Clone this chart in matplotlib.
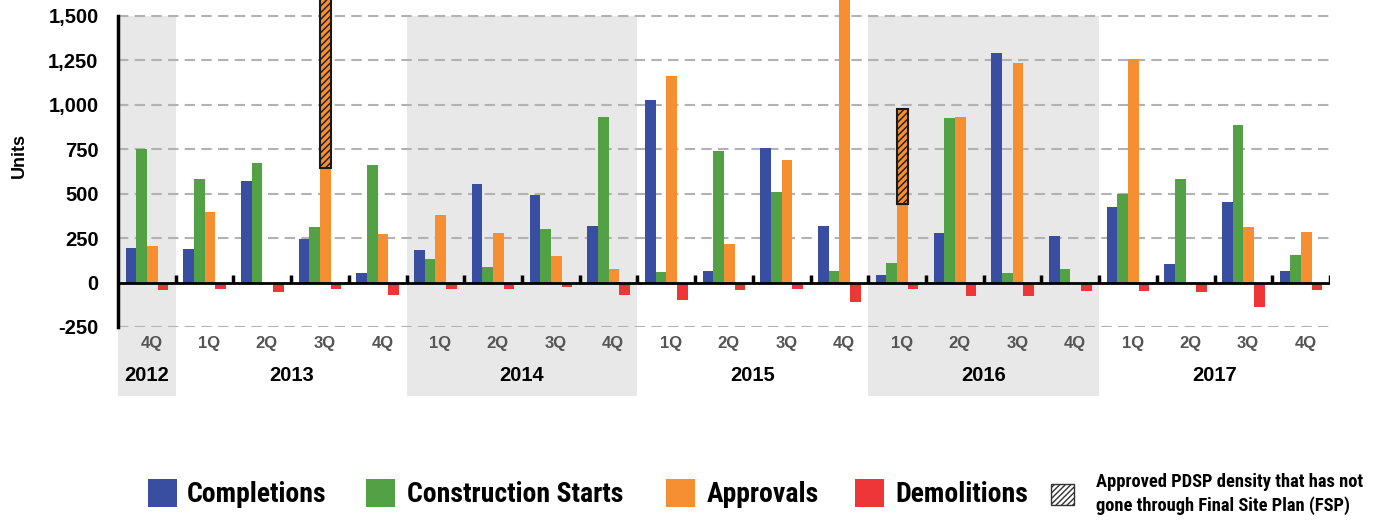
import matplotlib
matplotlib.use("Agg")
import matplotlib.pyplot as plt
from matplotlib.patches import Rectangle
import numpy as np

# Data (units per quarter)
quarters = ['4Q', '1Q', '2Q', '3Q', '4Q', '1Q', '2Q', '3Q', '4Q', '1Q', '2Q',
            '3Q', '4Q', '1Q', '2Q', '3Q', '4Q', '1Q', '2Q', '3Q', '4Q']
years = ['2012', '2013', '2014', '2015', '2016', '2017']
year_first = [0, 1, 5, 9, 13, 17]
year_last = [0, 4, 8, 12, 16, 20]
shaded_years = ['2012', '2014', '2016']

completions = [194, 187, 574, 243, 52, 181, 557, 490, 316, 1029, 64,
               759, 316, 41, 277, 1292, 260, 428, 103, 456, 64]
starts = [754, 580, 675, 310, 664, 131, 86, 299, 933, 58, 742,
          512, 64, 108, 928, 52, 75, 496, 585, 888, 153]
approvals = [204, 395, 0, 645, 271, 378, 277, 148, 75, 1163, 215,
             692, 1750, 440, 933, 1236, 0, 1259, 0, 310, 282]
demolitions = [-41, -36, -52, -36, -69, -36, -36, -24, -69, -97, -41,
               -36, -108, -36, -75, -75, -47, -47, -52, -137, -41]
# approved PDSP density not yet through FSP, stacked on approvals
pdsp = [0, 0, 0, 1300, 0, 0, 0, 0, 0, 0, 0,
        0, 0, 536, 0, 0, 0, 0, 0, 0, 0]

c_blue = '#3a4ea1'
c_green = '#52a245'
c_orange = '#f68e32'
c_red = '#ee3638'
c_shade = '#e8e8e8'

W, H = 1381, 521
fig = plt.figure(figsize=(W / 100, H / 100), dpi=100)
ax = fig.add_axes([118 / W, 1 - 327 / H, (1330 - 118) / W, 327 / H])

x = np.arange(len(quarters))
w = 0.185
ax.bar(x - 1.5 * w, completions, w, color=c_blue, zorder=3)
ax.bar(x - 0.5 * w, starts, w, color=c_green, zorder=3)
ax.bar(x + 0.5 * w, approvals, w, color=c_orange, zorder=3)
ax.bar(x + 1.5 * w, demolitions, w, color=c_red, zorder=3)

plt.rcParams['hatch.linewidth'] = 1.0
for i, v in enumerate(pdsp):
    if v > 0:
        ax.bar(x[i] + 0.5 * w, v, w, bottom=approvals[i], color=c_orange,
               edgecolor='#1a1a1a', hatch='/////', linewidth=1.5, zorder=4)

ax.set_xlim(-0.5, len(quarters) - 0.5)
ax.set_ylim(-250, 1590)

# shaded year bands (reach down behind the labels)
for yr, a, b in zip(years, year_first, year_last):
    if yr in shaded_years:
        ax.add_patch(Rectangle((a - 0.5, -640), b - a + 1, 2140,
                               facecolor=c_shade, edgecolor='none',
                               zorder=0, clip_on=False))

yticks = [-250, 0, 250, 500, 750, 1000, 1250, 1500]
ax.set_yticks(yticks)
ax.set_yticklabels([f'{t:,}' for t in yticks], fontsize=14.5,
                   fontweight='bold', family='Liberation Sans')
for t in yticks:
    if t != 0:
        ax.axhline(t, color='#b2b2b2', lw=1.5, ls=(0, (5, 3)), zorder=1)
ax.axhline(0, color='black', lw=2, zorder=5)
ax.vlines(np.arange(len(quarters)) + 0.5, 0, 45, color='black', lw=2.5, zorder=5)

for s in ['top', 'right', 'bottom']:
    ax.spines[s].set_visible(False)
ax.spines['left'].set_bounds(-250, 1500)
ax.spines['left'].set_linewidth(2.5)
ax.tick_params(axis='y', length=0, pad=14)
ax.tick_params(axis='x', length=0)
ax.set_xticks([])

ax.set_ylabel('Units', fontsize=13, fontweight='bold', family='Liberation Sans')
ax.yaxis.set_label_coords(-0.074, 0.524)

# quarter and year labels
for i, q in enumerate(quarters):
    ax.text(x[i] + 0.08, -345, q, ha='center', va='center', fontsize=12,
            fontweight='bold', color='#555555', family='Liberation Sans')
for yr, a, b in zip(years, year_first, year_last):
    ax.text((a + b) / 2, -525, yr, ha='center', va='center', fontsize=14.5,
            fontweight='bold', color='black', family='Liberation Sans')

# legend drawn along the bottom
def px(xp, yp):
    return xp / W, 1 - yp / H

narrow = ['Roboto Condensed', 'Asap Condensed', 'Archivo Narrow', 'Liberation Sans']
items = [(148, 187, c_blue, 'Completions'),
         (366, 407, c_green, 'Construction Starts'),
         (666, 707, c_orange, 'Approvals'),
         (855, 895, c_red, 'Demolitions')]
for xp, xt, col, lab in items:
    fig.add_artist(Rectangle(px(xp, 507), 29 / W, 28 / H, facecolor=col,
                             edgecolor='none', transform=fig.transFigure))
    fig.text(*px(xt, 494), lab, fontsize=20, fontweight='bold',
             family=narrow, va='center', ha='left')

fig.add_artist(Rectangle(px(1051, 505), 23 / W, 21 / H, facecolor='white',
                         edgecolor='#333333', hatch='//////', lw=1,
                         transform=fig.transFigure))
fig.text(*px(1096, 494), 'Approved PDSP density that has not\ngone through Final Site Plan (FSP)',
         fontsize=13.3, fontweight='bold', family=narrow, va='center', ha='left',
         linespacing=1.35)

fig.savefig('out.png', dpi=100)
